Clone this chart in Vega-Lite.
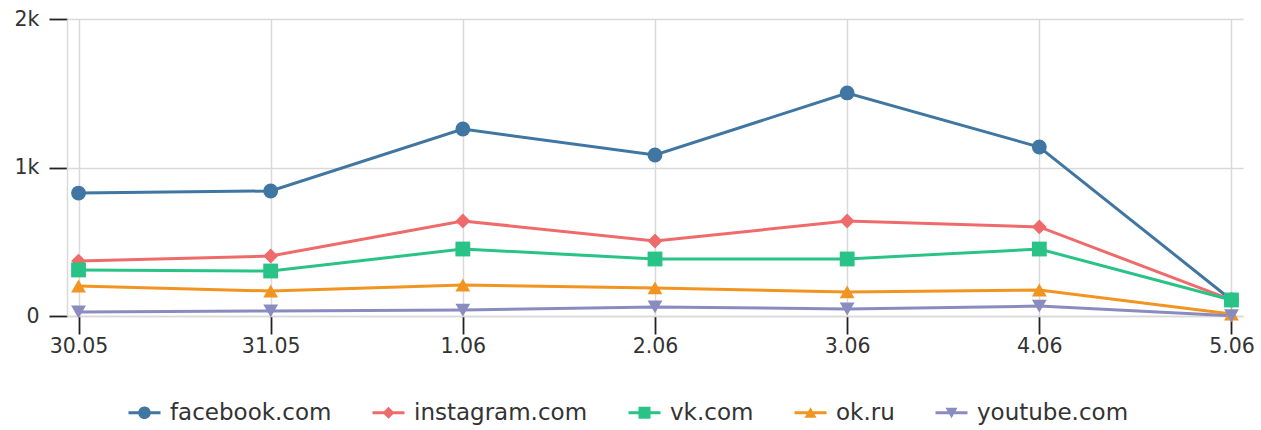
{
  "$schema": "https://vega.github.io/schema/vega-lite/v6.json",
  "autosize": "none",
  "width": 1176,
  "height": 297,
  "padding": {"left": 67, "top": 19, "right": 18, "bottom": 114},
  "background": "white",
  "data": {"values": [
    {"date": "30.05", "site": "facebook.com", "value": 828},
    {"date": "31.05", "site": "facebook.com", "value": 842},
    {"date": "1.06", "site": "facebook.com", "value": 1259},
    {"date": "2.06", "site": "facebook.com", "value": 1084},
    {"date": "3.06", "site": "facebook.com", "value": 1502},
    {"date": "4.06", "site": "facebook.com", "value": 1138},
    {"date": "5.06", "site": "facebook.com", "value": 108},
    {"date": "30.05", "site": "instagram.com", "value": 370},
    {"date": "31.05", "site": "instagram.com", "value": 404},
    {"date": "1.06", "site": "instagram.com", "value": 640},
    {"date": "2.06", "site": "instagram.com", "value": 505},
    {"date": "3.06", "site": "instagram.com", "value": 640},
    {"date": "4.06", "site": "instagram.com", "value": 600},
    {"date": "5.06", "site": "instagram.com", "value": 108},
    {"date": "30.05", "site": "vk.com", "value": 310},
    {"date": "31.05", "site": "vk.com", "value": 303},
    {"date": "1.06", "site": "vk.com", "value": 451},
    {"date": "2.06", "site": "vk.com", "value": 384},
    {"date": "3.06", "site": "vk.com", "value": 384},
    {"date": "4.06", "site": "vk.com", "value": 451},
    {"date": "5.06", "site": "vk.com", "value": 108},
    {"date": "30.05", "site": "ok.ru", "value": 202},
    {"date": "31.05", "site": "ok.ru", "value": 168},
    {"date": "1.06", "site": "ok.ru", "value": 209},
    {"date": "2.06", "site": "ok.ru", "value": 189},
    {"date": "3.06", "site": "ok.ru", "value": 162},
    {"date": "4.06", "site": "ok.ru", "value": 175},
    {"date": "5.06", "site": "ok.ru", "value": 13},
    {"date": "30.05", "site": "youtube.com", "value": 27},
    {"date": "31.05", "site": "youtube.com", "value": 34},
    {"date": "1.06", "site": "youtube.com", "value": 40},
    {"date": "2.06", "site": "youtube.com", "value": 61},
    {"date": "3.06", "site": "youtube.com", "value": 47},
    {"date": "4.06", "site": "youtube.com", "value": 67},
    {"date": "5.06", "site": "youtube.com", "value": 2}
  ]},
  "encoding": {
    "x": {
      "field": "date", "type": "ordinal",
      "sort": ["30.05", "31.05", "1.06", "2.06", "3.06", "4.06", "5.06"],
      "scale": {"type": "point", "padding": 0.06},
      "axis": {
        "title": null, "labelAngle": 0, "grid": true, "gridColor": "#d9d9d9", "gridWidth": 1.5,
        "domain": true, "domainColor": "#d9d9d9", "domainWidth": 1.5,
        "ticks": true, "tickColor": "#222222", "tickWidth": 1.8, "tickSize": 18,
        "labelFont": "DejaVu Sans", "labelFontSize": 20.5, "labelColor": "#333333", "labelPadding": 2
      }
    },
    "y": {
      "field": "value", "type": "quantitative",
      "scale": {"domain": [0, 2000], "nice": false},
      "axis": {
        "title": null, "values": [0, 1000, 2000],
        "labelExpr": "datum.value == 0 ? '0' : (datum.value / 1000) + 'k'",
        "grid": true, "gridColor": "#d9d9d9", "gridWidth": 1.5,
        "domain": true, "domainColor": "#d9d9d9", "domainWidth": 1.5,
        "ticks": true, "tickColor": "#222222", "tickWidth": 1.8, "tickSize": 18,
        "labelFont": "DejaVu Sans", "labelFontSize": 20.5, "labelColor": "#333333", "labelPadding": 10
      }
    },
    "color": {
      "field": "site", "type": "nominal",
      "scale": {
        "domain": ["facebook.com", "instagram.com", "vk.com", "ok.ru", "youtube.com"],
        "range": ["#3f76a2", "#ef6b6b", "#2ac387", "#f29420", "#8a8cc0"]
      }
    }
  },
  "layer": [
    {
      "mark": {"type": "line", "strokeWidth": 3},
      "encoding": {"color": {"field": "site", "type": "nominal", "legend": null}}
    },
    {
      "mark": {"type": "point", "filled": true, "size": 220, "opacity": 1},
      "encoding": {
        "color": {"field": "site", "type": "nominal", "legend": null},
        "shape": {
          "field": "site", "type": "nominal", "legend": null,
          "scale": {
            "domain": ["facebook.com", "instagram.com", "vk.com", "ok.ru", "youtube.com"],
            "range": ["circle", "diamond", "square", "triangle-up", "triangle-down"]
          }
        }
      }
    },
    {
      "mark": {"type": "point", "filled": true, "size": 0, "opacity": 1},
      "encoding": {
        "color": {
          "field": "site", "type": "nominal",
          "legend": {
            "title": null, "orient": "none", "legendX": 66, "legendY": 382, "direction": "horizontal",
            "symbolSize": 144, "symbolStrokeWidth": 0, "symbolOpacity": 1, "labelOffset": 14, "columnPadding": 40,
            "labelFont": "DejaVu Sans", "labelFontSize": 23, "labelColor": "#333333", "labelLimit": 400
          }
        },
        "shape": {
          "field": "site", "type": "nominal",
          "scale": {
            "domain": ["facebook.com", "instagram.com", "vk.com", "ok.ru", "youtube.com"],
            "range": [
              "M-2.67,-0.25H2.67V0.25H-2.67Z M1.05,0A1.05,1.05 0 1,1 -1.05,0A1.05,1.05 0 1,1 1.05,0Z",
              "M-2.67,-0.25H2.67V0.25H-2.67Z M0,-1L1,0L0,1L-1,0Z",
              "M-2.67,-0.25H2.67V0.25H-2.67Z M-1,-1H1V1H-1Z",
              "M-2.67,-0.25H2.67V0.25H-2.67Z M0,-0.9L1,0.85H-1Z",
              "M-2.67,-0.25H2.67V0.25H-2.67Z M-1,-0.85H1L0,0.9Z"
            ]
          },
          "legend": {
            "title": null, "orient": "none", "legendX": 66, "legendY": 382, "direction": "horizontal",
            "symbolSize": 144, "symbolStrokeWidth": 0, "symbolOpacity": 1, "labelOffset": 14, "columnPadding": 40,
            "labelFont": "DejaVu Sans", "labelFontSize": 23, "labelColor": "#333333", "labelLimit": 400
          }
        }
      }
    }
  ],
  "resolve": {
    "scale": {"shape": "independent"},
    "legend": {"shape": "independent", "color": "independent"}
  },
  "config": {"view": {"stroke": null}}
}
